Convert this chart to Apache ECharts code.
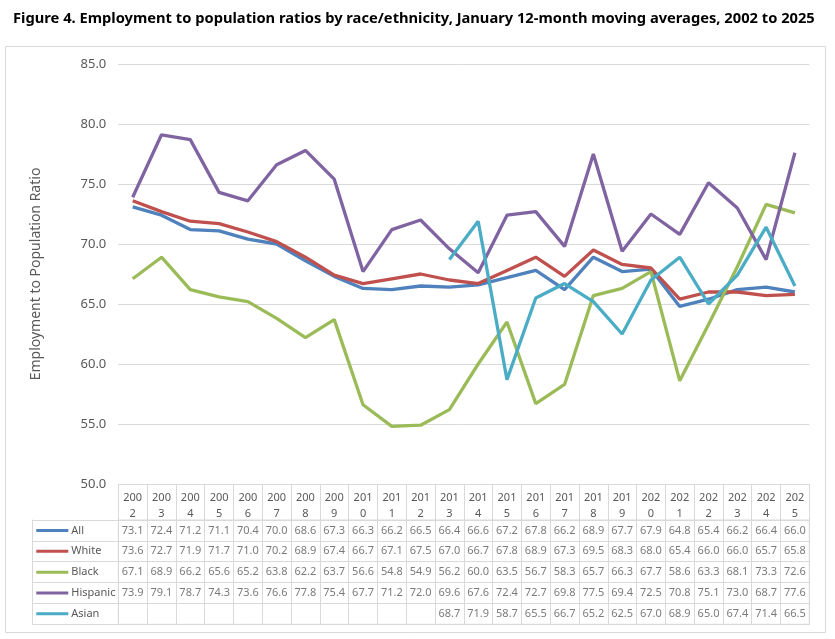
<!DOCTYPE html>
<html><head><meta charset="utf-8">
<script src="https://cdn.jsdelivr.net/npm/echarts@6/dist/echarts.min.js"></script>
<style>html,body{margin:0;padding:0;background:#fff}#c{width:835px;height:639px}</style>
</head><body><div id="c"></div>
<script>
const years = ['2002','2003','2004','2005','2006','2007','2008','2009','2010','2011','2012','2013','2014','2015','2016','2017','2018','2019','2020','2021','2022','2023','2024','2025'];
const rowNames = ['All','White','Black','Hispanic','Asian'];
const allV = [73.1,72.4,71.2,71.1,70.4,70.0,68.6,67.3,66.3,66.2,66.5,66.4,66.6,67.2,67.8,66.2,68.9,67.7,67.9,64.8,65.4,66.2,66.4,66.0];
const whiteV = [73.6,72.7,71.9,71.7,71.0,70.2,68.9,67.4,66.7,67.1,67.5,67.0,66.7,67.8,68.9,67.3,69.5,68.3,68.0,65.4,66.0,66.0,65.7,65.8];
const blackV = [67.1,68.9,66.2,65.6,65.2,63.8,62.2,63.7,56.6,54.8,54.9,56.2,60.0,63.5,56.7,58.3,65.7,66.3,67.7,58.6,63.3,68.1,73.3,72.6];
const hispanicV = [73.9,79.1,78.7,74.3,73.6,76.6,77.8,75.4,67.7,71.2,72.0,69.6,67.6,72.4,72.7,69.8,77.5,69.4,72.5,70.8,75.1,73.0,68.7,77.6];
const asianV = [null,null,null,null,null,null,null,null,null,null,null,68.7,71.9,58.7,65.5,66.7,65.2,62.5,67.0,68.9,65.0,67.4,71.4,66.5];
const yTicks = [50,55,60,65,70,75,80,85];

const colors = ['#4F81BD','#C0504D','#9BBB59','#8064A2','#4BACC6'];
const seriesVals = [allV, whiteV, blackV, hispanicV, asianV];
const FONT = 'Noto Sans';
const TXT = '#595959';
const GRID = '#D9D9D9';

const chart = echarts.init(document.getElementById('c'), null, {renderer:'canvas'});

const rich = {};
rowNames.forEach((n,i)=>{
  rich['l'+i] = {width:32, height:3, backgroundColor:colors[i], verticalAlign:'middle'};
});
rich.nm = {color:TXT, fontFamily:FONT, fontSize:11, padding:[0,0,0,3], verticalAlign:'middle'};

const lineSeries = rowNames.map((n,i)=>({
  name:n, type:'line', xAxisIndex:0, yAxisIndex:0,
  data: seriesVals[i], symbol:'none', connectNulls:false,
  lineStyle:{width:3.3, color:colors[i]}, itemStyle:{color:colors[i]}, z:2+i
}));

const tableSeries = rowNames.map((n,i)=>({
  type:'scatter', xAxisIndex:1, yAxisIndex:1, symbolSize:0, silent:true,
  data: years.map((y,j)=> seriesVals[i][j]==null ? null : [y, n, seriesVals[i][j]]).filter(d=>d),
  label:{show:true, position:'inside', color:TXT, fontFamily:FONT, fontSize:11,
    formatter:p=>p.value[2].toFixed(1)}
}));

chart.setOption({
  animation:false,
  color:colors,
  title:{text:'Figure 4. Employment to population ratios by race/ethnicity, January 12-month moving averages, 2002 to 2025',
    left:8, top:6, textStyle:{fontFamily:'Noto Sans', fontWeight:'bold', fontSize:14.7, color:'#000'}},
  graphic:[{type:'rect', shape:{x:5.5,y:46.5,width:820,height:586}, style:{fill:'none', stroke:GRID, lineWidth:1}, z:-1}],
  grid:[
    {left:118.3, right:25.7, top:64, bottom:155},
    {left:118.3, right:25.7, top:520, bottom:14.7, show:true, borderColor:GRID, borderWidth:1}
  ],
  xAxis:[
    {type:'category', gridIndex:0, data:years, boundaryGap:true,
     axisLine:{show:true, lineStyle:{color:GRID}},
     axisTick:{show:true, length:36, interval:0, lineStyle:{color:GRID}},
     axisLabel:{interval:0, margin:6, color:TXT, fontFamily:FONT, fontSize:11, lineHeight:16,
       formatter:v=>v.slice(0,3)+'\n'+v.slice(3)}},
    {type:'category', gridIndex:1, data:years, boundaryGap:true,
     axisLine:{show:false}, axisTick:{show:false}, axisLabel:{show:false},
     splitLine:{show:true, interval:0, lineStyle:{color:GRID}}}
  ],
  yAxis:[
    {type:'value', gridIndex:0, min:50, max:85, interval:5,
     name:'Employment to Population Ratio', nameLocation:'middle', nameGap:75, nameRotate:90,
     nameTextStyle:{color:TXT, fontFamily:FONT, fontSize:14},
     axisLine:{show:false}, axisTick:{show:false},
     axisLabel:{color:TXT, fontFamily:FONT, fontSize:13, margin:12, formatter:v=>v.toFixed(1)},
     splitLine:{show:true, lineStyle:{color:GRID}}},
    {type:'category', gridIndex:1, data:rowNames, inverse:true, boundaryGap:true,
     axisLine:{show:true, lineStyle:{color:GRID}},
     axisTick:{show:true, length:86, interval:0, lineStyle:{color:GRID}},
     axisLabel:{interval:0, align:'left', margin:82, formatter:(v,i)=>'{l'+i+'|}{nm|'+v+'}', rich:rich},
     splitLine:{show:true, interval:0, lineStyle:{color:GRID}}},
    {type:'category', gridIndex:1, data:rowNames, inverse:true, position:'left', offset:86,
     axisLine:{show:true, lineStyle:{color:GRID}}, axisTick:{show:false}, axisLabel:{show:false}, splitLine:{show:false}}
  ],
  series: lineSeries.concat(tableSeries)
});
</script></body></html>
